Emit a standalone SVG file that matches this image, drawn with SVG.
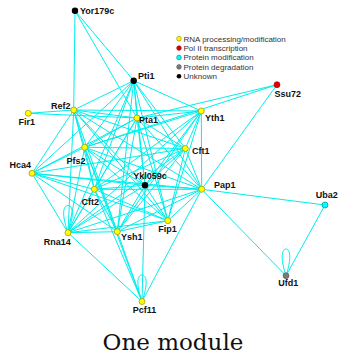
<svg xmlns="http://www.w3.org/2000/svg" width="339" height="354" viewBox="0 0 339 354">
  <style>
    .e { stroke: #00eeee; stroke-width: 1; fill: none; }
    .lbl { font-family: "Liberation Sans", Arial, sans-serif; font-size: 9px; font-weight: bold; fill: #111; }
    .leg { font-family: "Liberation Sans", Arial, sans-serif; font-size: 8px; fill: #333; }
    .rna { fill: #ffff00; stroke: #a89c00; stroke-width: 0.8; }
    .unk { fill: #000; }
    .pol { fill: #e00000; stroke: #900; stroke-width: 0.6; }
    .pmod { fill: #00ffff; stroke: #089c9c; stroke-width: 0.8; }
    .pdeg { fill: #7a7a7a; stroke: #555; stroke-width: 0.6; }
    .title { font-family: "DejaVu Serif", serif; font-size: 23px; fill: #111; }
  </style>
  <rect width="339" height="354" fill="#fff"/>

  <g id="edges">
    <!-- outer attachments -->
    <line class="e" x1="75" y1="10.7" x2="73.7" y2="110"/>
    <line class="e" x1="75" y1="10.7" x2="133.7" y2="80.7"/>
    <line class="e" x1="75" y1="10.7" x2="137" y2="118"/>
    <line class="e" x1="28.3" y1="113.3" x2="73.7" y2="110"/>
    <line class="e" x1="28.3" y1="113.3" x2="137" y2="118"/>
    <line class="e" x1="277" y1="84.7" x2="137" y2="118"/>
    <line class="e" x1="277" y1="84.7" x2="84.7" y2="147.3"/>
    <line class="e" x1="277" y1="84.7" x2="201.7" y2="189.3"/>
    <line class="e" x1="201.7" y1="189.3" x2="325" y2="205"/>
    <line class="e" x1="201.7" y1="189.3" x2="286" y2="275.7"/>
    <line class="e" x1="325" y1="205" x2="286" y2="275.7"/>
    <path class="e" d="M286,275.7 C280,258 282,249 286,249 C290,249 292,258 286,275.7"/>

    <!-- core complex -->
    <line class="e" x1="73.7" y1="110" x2="133.7" y2="80.7"/>
    <line class="e" x1="73.7" y1="110" x2="137" y2="118"/>
    <line class="e" x1="73.7" y1="110" x2="201.3" y2="111"/>
    <line class="e" x1="73.7" y1="110" x2="84.7" y2="147.3"/>
    <line class="e" x1="73.7" y1="110" x2="185.3" y2="148.5"/>
    <line class="e" x1="73.7" y1="110" x2="145" y2="185.3"/>
    <line class="e" x1="73.7" y1="110" x2="94.3" y2="189.3"/>
    <line class="e" x1="73.7" y1="110" x2="201.7" y2="189.3"/>
    <line class="e" x1="73.7" y1="110" x2="117.3" y2="231.7"/>
    <line class="e" x1="73.7" y1="110" x2="167.8" y2="220.7"/>
    <line class="e" x1="133.7" y1="80.7" x2="137" y2="118"/>
    <line class="e" x1="133.7" y1="80.7" x2="201.3" y2="111"/>
    <line class="e" x1="133.7" y1="80.7" x2="84.7" y2="147.3"/>
    <line class="e" x1="133.7" y1="80.7" x2="185.3" y2="148.5"/>
    <line class="e" x1="133.7" y1="80.7" x2="145" y2="185.3"/>
    <line class="e" x1="133.7" y1="80.7" x2="94.3" y2="189.3"/>
    <line class="e" x1="133.7" y1="80.7" x2="201.7" y2="189.3"/>
    <line class="e" x1="133.7" y1="80.7" x2="117.3" y2="231.7"/>
    <line class="e" x1="133.7" y1="80.7" x2="167.8" y2="220.7"/>
    <line class="e" x1="137" y1="118" x2="201.3" y2="111"/>
    <line class="e" x1="137" y1="118" x2="84.7" y2="147.3"/>
    <line class="e" x1="137" y1="118" x2="185.3" y2="148.5"/>
    <line class="e" x1="137" y1="118" x2="145" y2="185.3"/>
    <line class="e" x1="137" y1="118" x2="94.3" y2="189.3"/>
    <line class="e" x1="137" y1="118" x2="201.7" y2="189.3"/>
    <line class="e" x1="137" y1="118" x2="117.3" y2="231.7"/>
    <line class="e" x1="137" y1="118" x2="167.8" y2="220.7"/>
    <line class="e" x1="201.3" y1="111" x2="84.7" y2="147.3"/>
    <line class="e" x1="201.3" y1="111" x2="185.3" y2="148.5"/>
    <line class="e" x1="201.3" y1="111" x2="145" y2="185.3"/>
    <line class="e" x1="201.3" y1="111" x2="94.3" y2="189.3"/>
    <line class="e" x1="201.3" y1="111" x2="201.7" y2="189.3"/>
    <line class="e" x1="201.3" y1="111" x2="117.3" y2="231.7"/>
    <line class="e" x1="201.3" y1="111" x2="167.8" y2="220.7"/>
    <line class="e" x1="84.7" y1="147.3" x2="185.3" y2="148.5"/>
    <line class="e" x1="84.7" y1="147.3" x2="145" y2="185.3"/>
    <line class="e" x1="84.7" y1="147.3" x2="94.3" y2="189.3"/>
    <line class="e" x1="84.7" y1="147.3" x2="201.7" y2="189.3"/>
    <line class="e" x1="84.7" y1="147.3" x2="117.3" y2="231.7"/>
    <line class="e" x1="84.7" y1="147.3" x2="167.8" y2="220.7"/>
    <line class="e" x1="185.3" y1="148.5" x2="145" y2="185.3"/>
    <line class="e" x1="185.3" y1="148.5" x2="94.3" y2="189.3"/>
    <line class="e" x1="185.3" y1="148.5" x2="201.7" y2="189.3"/>
    <line class="e" x1="185.3" y1="148.5" x2="117.3" y2="231.7"/>
    <line class="e" x1="185.3" y1="148.5" x2="167.8" y2="220.7"/>
    <line class="e" x1="145" y1="185.3" x2="94.3" y2="189.3"/>
    <line class="e" x1="145" y1="185.3" x2="201.7" y2="189.3"/>
    <line class="e" x1="145" y1="185.3" x2="117.3" y2="231.7"/>
    <line class="e" x1="145" y1="185.3" x2="167.8" y2="220.7"/>
    <line class="e" x1="94.3" y1="189.3" x2="201.7" y2="189.3"/>
    <line class="e" x1="94.3" y1="189.3" x2="117.3" y2="231.7"/>
    <line class="e" x1="94.3" y1="189.3" x2="167.8" y2="220.7"/>
    <line class="e" x1="201.7" y1="189.3" x2="117.3" y2="231.7"/>
    <line class="e" x1="201.7" y1="189.3" x2="167.8" y2="220.7"/>
    <line class="e" x1="117.3" y1="231.7" x2="167.8" y2="220.7"/>

    <!-- Hca4 -->
    <line class="e" x1="32" y1="173.3" x2="73.7" y2="110"/>
    <line class="e" x1="32" y1="173.3" x2="133.7" y2="80.7"/>
    <line class="e" x1="32" y1="173.3" x2="84.7" y2="147.3"/>
    <line class="e" x1="32" y1="173.3" x2="137" y2="118"/>
    <line class="e" x1="32" y1="173.3" x2="185.3" y2="148.5"/>
    <line class="e" x1="32" y1="173.3" x2="145" y2="185.3"/>
    <line class="e" x1="32" y1="173.3" x2="201.7" y2="189.3"/>
    <line class="e" x1="32" y1="173.3" x2="94.3" y2="189.3"/>
    <line class="e" x1="32" y1="173.3" x2="68" y2="232.7"/>
    <line class="e" x1="32" y1="173.3" x2="117.3" y2="231.7"/>
    <line class="e" x1="32" y1="173.3" x2="167.8" y2="220.7"/>

    <!-- Rna14 -->
    <line class="e" x1="68" y1="232.7" x2="73.7" y2="110"/>
    <line class="e" x1="68" y1="232.7" x2="133.7" y2="80.7"/>
    <line class="e" x1="68" y1="232.7" x2="137" y2="118"/>
    <line class="e" x1="68" y1="232.7" x2="201.3" y2="111"/>
    <line class="e" x1="68" y1="232.7" x2="84.7" y2="147.3"/>
    <line class="e" x1="68" y1="232.7" x2="185.3" y2="148.5"/>
    <line class="e" x1="68" y1="232.7" x2="145" y2="185.3"/>
    <line class="e" x1="68" y1="232.7" x2="94.3" y2="189.3"/>
    <line class="e" x1="68" y1="232.7" x2="201.7" y2="189.3"/>
    <line class="e" x1="68" y1="232.7" x2="117.3" y2="231.7"/>
    <line class="e" x1="68" y1="232.7" x2="167.8" y2="220.7"/>
    <line class="e" x1="68" y1="232.7" x2="142" y2="301.5"/>
    <path class="e" d="M68,232.7 C61,213 63.5,205.5 68,205.5 C72.5,205.5 75,213 68,232.7"/>

    <!-- Pcf11 -->
    <line class="e" x1="142" y1="301.5" x2="117.3" y2="231.7"/>
    <line class="e" x1="142" y1="301.5" x2="94.3" y2="189.3"/>
    <line class="e" x1="142" y1="301.5" x2="84.7" y2="147.3"/>
    <line class="e" x1="142" y1="301.5" x2="145" y2="185.3"/>
    <line class="e" x1="142" y1="301.5" x2="201.7" y2="189.3"/>
    <path class="e" d="M142,301.5 C135.5,283 137.5,275 142,275 C146.5,275 148.5,283 142,301.5"/>
  </g>

  <g id="n-yor179c"><circle class="unk" cx="75" cy="10.7" r="3.2"/><text class="lbl" x="80" y="14">Yor179c</text></g>
  <g id="n-pti1"><circle class="unk" cx="133.7" cy="80.7" r="3.2"/><text class="lbl" x="138" y="78.5">Pti1</text></g>
  <g id="n-ssu72"><circle class="pol" cx="277" cy="84.7" r="3"/><text class="lbl" x="274.5" y="96.7">Ssu72</text></g>
  <g id="n-ref2"><circle class="rna" cx="73.7" cy="110" r="3"/><text class="lbl" x="70.5" y="109" text-anchor="end">Ref2</text></g>
  <g id="n-fir1"><circle class="rna" cx="28.3" cy="113.3" r="3"/><text class="lbl" x="18.5" y="125">Fir1</text></g>
  <g id="n-pta1"><circle class="rna" cx="137" cy="118" r="3"/><text class="lbl" x="139" y="123">Pta1</text></g>
  <g id="n-yth1"><circle class="rna" cx="201.3" cy="111" r="3"/><text class="lbl" x="205" y="121">Yth1</text></g>
  <g id="n-pfs2"><circle class="rna" cx="84.7" cy="147.3" r="3"/><text class="lbl" x="66.5" y="164">Pfs2</text></g>
  <g id="n-cft1"><circle class="rna" cx="185.3" cy="148.5" r="3"/><text class="lbl" x="192" y="154.3">Cft1</text></g>
  <g id="n-hca4"><circle class="rna" cx="32" cy="173.3" r="3"/><text class="lbl" x="31" y="168" text-anchor="end">Hca4</text></g>
  <g id="n-ykl059c"><circle class="unk" cx="145" cy="185.3" r="3.2"/><text class="lbl" x="133.3" y="178.7">Ykl059c</text></g>
  <g id="n-cft2"><circle class="rna" cx="94.3" cy="189.3" r="3"/><text class="lbl" x="81.5" y="205.3">Cft2</text></g>
  <g id="n-pap1"><circle class="rna" cx="201.7" cy="189.3" r="3"/><text class="lbl" x="214" y="188.3">Pap1</text></g>
  <g id="n-uba2"><circle class="pmod" cx="325" cy="205" r="3"/><text class="lbl" x="315.7" y="198">Uba2</text></g>
  <g id="n-fip1"><circle class="rna" cx="167.8" cy="220.7" r="3"/><text class="lbl" x="158.3" y="232.3">Fip1</text></g>
  <g id="n-rna14"><circle class="rna" cx="68" cy="232.7" r="3"/><text class="lbl" x="43.7" y="245">Rna14</text></g>
  <g id="n-ysh1"><circle class="rna" cx="117.3" cy="231.7" r="3"/><text class="lbl" x="121" y="240">Ysh1</text></g>
  <g id="n-ufd1"><circle class="pdeg" cx="286" cy="275.7" r="3"/><text class="lbl" x="278.3" y="286">Ufd1</text></g>
  <g id="n-pcf11"><circle class="rna" cx="142" cy="301.5" r="3"/><text class="lbl" x="132.7" y="312.7">Pcf11</text></g>

  <g id="legend">
    <circle class="rna" cx="179" cy="38.7" r="2.3"/><text class="leg" x="183.5" y="41.6">RNA processing/modification</text>
    <circle class="pol" cx="179" cy="48.1" r="2.3"/><text class="leg" x="183.5" y="51">Pol II transcription</text>
    <circle class="pmod" cx="179" cy="57.5" r="2.3"/><text class="leg" x="183.5" y="60.4">Protein modification</text>
    <circle class="pdeg" cx="179" cy="66.9" r="2.3"/><text class="leg" x="183.5" y="69.8">Protein degradation</text>
    <circle class="unk" cx="179" cy="76.3" r="2.3"/><text class="leg" x="183.5" y="79.2">Unknown</text>
  </g>

  <text class="title" x="173" y="350" text-anchor="middle">One module</text>
</svg>
